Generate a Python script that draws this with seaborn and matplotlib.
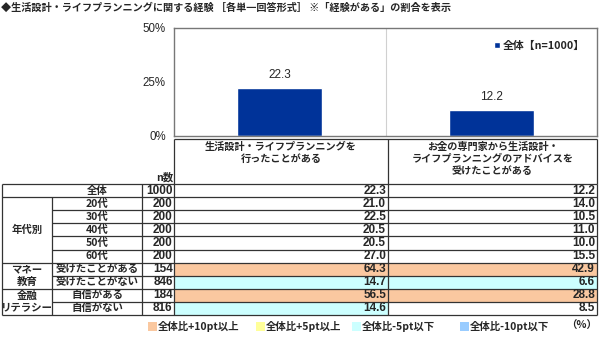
import matplotlib
matplotlib.use("Agg")
import matplotlib.pyplot as plt
import seaborn as sns
import pandas as pd
from matplotlib.patches import Rectangle

# ---------------- data ----------------
categories = ["生活設計・ライフプランニングを\n行ったことがある",
              "お金の専門家から生活設計・\nライフプランニングのアドバイスを\n受けたことがある"]
overall_values = [22.3, 12.2]
series_name = "全体【n=1000】"

row_labels = ["全体", "20代", "30代", "40代", "50代", "60代",
              "受けたことがある", "受けたことがない", "自信がある", "自信がない"]
row_groups = ["", "年代別", "年代別", "年代別", "年代別", "年代別",
              "マネー\n教育", "マネー\n教育", "金融\nリテラシー", "金融\nリテラシー"]
n_values = [1000, 200, 200, 200, 200, 200, 154, 846, 184, 816]
col1_values = [22.3, 21.0, 22.5, 20.5, 20.5, 27.0, 64.3, 14.7, 56.5, 14.6]
col2_values = [12.2, 14.0, 10.5, 11.0, 10.0, 15.5, 42.9, 6.6, 28.8, 8.5]

yticks = [0, 25, 50]
ytick_labels = ["0%", "25%", "50%"]
legend_items = ["全体比+10pt以上", "全体比+5pt以上", "全体比-5pt以下", "全体比-10pt以下"]
title = "◆生活設計・ライフプランニングに関する経験 ［各単一回答形式］ ※「経験がある」の割合を表示"

# ---------------- style ----------------
sns.set_style("white")
JP = ["Noto Sans CJK JP", "DejaVu Sans"]
NUM = ["Liberation Sans", "Noto Sans CJK JP"]
plt.rcParams["font.family"] = JP

W, H = 600, 337
BAR_COLOR = "#003399"
C_UP10 = "#FAC8A0"
C_UP5 = "#FFFF99"
C_DN5 = "#CCFFFF"
C_DN10 = "#99CCFF"
LINE = "#333333"
FS_JP = 7.5

fig = plt.figure(figsize=(6.0, 3.37), dpi=100)

# overlay axes in pixel coordinates for the table
tax = fig.add_axes([0, 0, 1, 1])
tax.set_xlim(0, W)
tax.set_ylim(H, 0)
tax.axis("off")

# bar chart axes
L, R, T, B = 174, 597, 28, 136
ax = fig.add_axes([L / W, 1 - B / H, (R - L) / W, (B - T) / H])
df = pd.DataFrame({"cat": categories, "val": overall_values, "series": series_name})
sns.barplot(data=df, x="cat", y="val", hue="series", palette=[BAR_COLOR],
            width=0.4, ax=ax, legend=True, saturation=1)
ax.set_ylim(0, 50)
ax.set_yticks(yticks)
ax.set_yticklabels(ytick_labels, fontsize=8.3, family=NUM)
ax.tick_params(axis="y", length=0, pad=6)
ax.set_xticks([])
ax.set_xlabel("")
ax.set_ylabel("")
ax.axvline(0.5, color="#d0d0d0", lw=0.8)
for s in ax.spines.values():
    s.set_color("#777777")
    s.set_linewidth(1.0)
for c in ax.containers:
    ax.bar_label(c, fmt="%.1f", padding=5, fontsize=8.5, family=NUM)
h, l = ax.get_legend_handles_labels()
ax.legend(h, l, loc="upper right", bbox_to_anchor=(0.995, 0.97), frameon=False,
          handlelength=0.55, handleheight=0.55, handletextpad=0.3,
          prop={"family": JP, "weight": "bold", "size": 7.8})

# title
tax.text(1, 8, title, fontsize=7.3, fontweight="bold", va="center", ha="left")

# ---------------- table ----------------
X0, XG, XS, XN, XC1, XC2 = 2, 52, 142, 174, 388, 597
HT = 139
TOP, RH = 184, 13.1
nrows = len(row_labels)
BOT = TOP + RH * nrows

def hl(y, x1, x2, lw=0.9, c=LINE):
    tax.plot([x1, x2], [y, y], color=c, lw=lw, solid_capstyle="butt")

def vl(x, y1, y2, lw=0.9, c=LINE):
    tax.plot([x, x], [y1, y2], color=c, lw=lw, solid_capstyle="butt")

def fill_color(v, base):
    d = v - base
    if d >= 10:
        return C_UP10
    if d >= 5:
        return C_UP5
    if d <= -10:
        return C_DN10
    if d <= -5:
        return C_DN5
    return None

# cell fills
for i in range(nrows):
    y = TOP + i * RH
    for (xa, xb), vals in (((XN, XC1), col1_values), ((XC1, XC2), col2_values)):
        fc = fill_color(vals[i], vals[0])
        if fc:
            tax.add_patch(Rectangle((xa, y), xb - xa, RH, facecolor=fc, edgecolor="none"))

# header
hl(HT, XN, XC2)
vl(XN, HT, TOP)
vl(XC1, HT, TOP)
vl(XC2, HT, TOP)
for (xa, xb), cat in (((XN, XC1), categories[0]), ((XC1, XC2), categories[1])):
    tax.text((xa + xb) / 2, HT + 3, cat, ha="center", va="top", fontsize=7.3,
             fontweight="bold", linespacing=1.25)
tax.text(XN - 1, TOP - 1.5, "n数", ha="right", va="bottom", fontsize=FS_JP, fontweight="bold")

# row lines
for i in range(nrows + 1):
    y = TOP + i * RH
    if 0 < i < nrows and row_groups[i] == row_groups[i - 1]:
        hl(y, XG, XC2)
    else:
        hl(y, X0, XC2)
vl(X0, TOP, BOT)
vl(XG, TOP + RH, BOT)
vl(XS, TOP, BOT)
vl(XN, TOP, BOT)
vl(XC1, TOP, BOT)
vl(XC2, TOP, BOT)

# row texts
for i in range(nrows):
    yc = TOP + (i + 0.5) * RH
    tax.text((XG + XS) / 2, yc, row_labels[i], ha="center", va="center",
             fontsize=FS_JP, fontweight="bold")
    tax.text(XN - 1.5, yc, f"{n_values[i]}", ha="right", va="center",
             fontsize=8.5, fontweight="bold", family=NUM)
    tax.text(XC1 - 2, yc, f"{col1_values[i]:.1f}", ha="right", va="center",
             fontsize=8.5, fontweight="bold", family=NUM)
    tax.text(XC2 - 2, yc, f"{col2_values[i]:.1f}", ha="right", va="center",
             fontsize=8.5, fontweight="bold", family=NUM)

# group labels
seen = []
for g in row_groups:
    if g and g not in seen:
        seen.append(g)
for g in seen:
    idx = [i for i, gg in enumerate(row_groups) if gg == g]
    yc = TOP + (idx[0] + idx[-1] + 1) / 2 * RH
    tax.text((X0 + XG) / 2, yc, g, ha="center", va="center", fontsize=FS_JP,
             fontweight="bold", linespacing=1.3)

# bottom legend
LY = 326
leg_x = [148, 256, 352, 460]
for x, txt, c in zip(leg_x, legend_items, [C_UP10, C_UP5, C_DN5, C_DN10]):
    tax.add_patch(Rectangle((x, LY - 4.5), 9, 9, facecolor=c, edgecolor="none"))
    tax.text(x + 10, LY, txt, ha="left", va="center", fontsize=FS_JP, fontweight="bold",
             family=["Noto Sans CJK JP", "DejaVu Sans"])
tax.text(597, LY, "（%）", ha="right", va="center", fontsize=FS_JP, fontweight="bold")

fig.savefig("out.png", dpi=100)
